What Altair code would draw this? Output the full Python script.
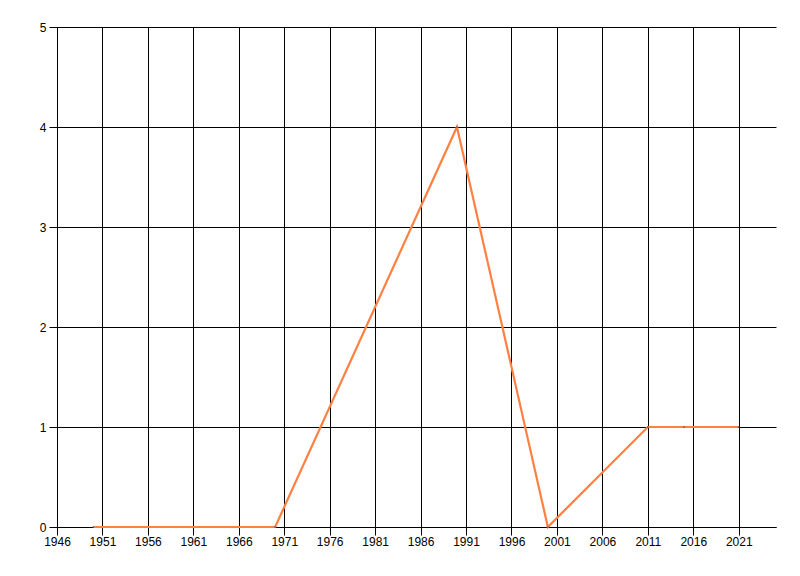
import altair as alt
import pandas as pd

years = [1950, 1970, 1990, 2000, 2011, 2015, 2021]
values = [0, 0, 4, 0, 1, 1, 1]
x_ticks = [1946, 1951, 1956, 1961, 1966, 1971, 1976, 1981, 1986, 1991, 1996, 2001, 2006, 2011, 2016, 2021]
y_ticks = [0, 1, 2, 3, 4, 5]

df = pd.DataFrame({"year": years, "value": values})

x = alt.X("year:Q",
          scale=alt.Scale(domain=[1946, 2025.1], nice=False, zero=False),
          axis=alt.Axis(values=x_ticks, format="d", title=None, grid=True,
                        gridColor="black", gridOpacity=1, gridWidth=1,
                        domainColor="black", tickColor="black", tickSize=8,
                        labelColor="black", labelFont="Liberation Sans", labelFontSize=12,
                        labelPadding=1, labelFlush=False, labelOverlap=False))
y = alt.Y("value:Q",
          scale=alt.Scale(domain=[0, 5], nice=False),
          axis=alt.Axis(values=y_ticks, format="d", title=None, grid=True,
                        gridColor="black", gridOpacity=1, gridWidth=1,
                        domainColor="black", tickColor="black", tickSize=8,
                        labelColor="black", labelFont="Liberation Sans", labelFontSize=12,
                        labelPadding=3))

line = alt.Chart(df).mark_line(color="#ff8040", strokeWidth=2.2).encode(x=x, y=y)
pts = alt.Chart(df).mark_point(filled=True, size=3, color="#555555", opacity=1).encode(x=x, y=y)

chart = (line + pts).properties(
    width=719, height=500,
    autosize=alt.AutoSizeParams(type="none"),
    padding={"left": 49, "top": 19, "right": 10, "bottom": 40},
    background="white",
).configure_view(stroke=None)

chart.save("out.html", embed_options={"renderer": "svg", "actions": False})
